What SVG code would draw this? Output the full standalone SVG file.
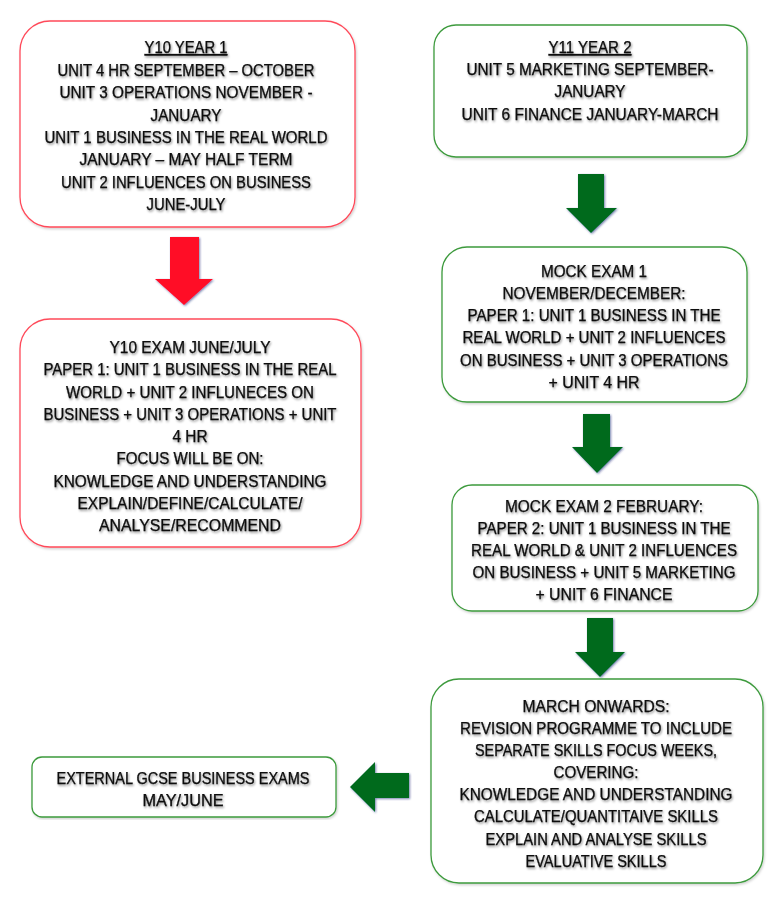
<svg xmlns="http://www.w3.org/2000/svg" width="768" height="903" viewBox="0 0 768 903">
<defs>
<filter id="ts" x="-5%" y="-30%" width="110%" height="160%">
<feDropShadow dx="1" dy="1.5" stdDeviation="1.2" flood-color="#000" flood-opacity="0.45"/>
</filter>
<filter id="bs" x="-5%" y="-5%" width="110%" height="110%">
<feDropShadow dx="1" dy="1.5" stdDeviation="1.2" flood-color="#000" flood-opacity="0.18"/>
</filter>
<filter id="as" x="-20%" y="-20%" width="140%" height="140%">
<feDropShadow dx="1" dy="1" stdDeviation="0.8" flood-color="#1a2a7a" flood-opacity="0.6"/>
</filter>
</defs>
<style>
.red{fill:#fff;stroke:#ff4a5a;stroke-width:1.3;filter:url(#bs)}
.grn{fill:#fff;stroke:#3c9a3c;stroke-width:1.3;filter:url(#bs)}
text{font-family:"Liberation Sans",Arial,sans-serif;font-size:16px;fill:#0a0a0a;stroke:#0a0a0a;stroke-width:0.25;text-anchor:middle;filter:url(#ts)}
.u{text-decoration:underline}
.ra{fill:#ff0a28;filter:url(#as)}
.ga{fill:#006b1c;filter:url(#as)}
</style>
<rect width="768" height="903" fill="#fff"/>

<g id="connectors">
<polygon class="ra" points="170,237 199,237 199,279 213,279 184,305 155,279 170,279"/>
<polygon class="ga" points="578,174 604,174 604,208 617,208 591,233 566,208 578,208"/>
<polygon class="ga" points="583,414 610,414 610,447 623,447 597,473 572,447 583,447"/>
<polygon class="ga" points="587,618 613,618 613,652 625,652 600,677 575,652 587,652"/>
<polygon class="ga" points="409,773 409,798 375,798 375,812 350,787 375,762 375,773"/>
</g>

<g id="y10-year1">
<rect class="red" x="20" y="21" width="335" height="206" rx="30"/>
<text class="u" x="186" y="53" textLength="83" lengthAdjust="spacingAndGlyphs">Y10 YEAR 1</text>
<text x="186" y="76" textLength="257" lengthAdjust="spacingAndGlyphs">UNIT 4 HR SEPTEMBER – OCTOBER</text>
<text x="186" y="98" textLength="253" lengthAdjust="spacingAndGlyphs">UNIT 3 OPERATIONS NOVEMBER -</text>
<text x="186" y="121" textLength="71" lengthAdjust="spacingAndGlyphs">JANUARY</text>
<text x="186" y="143" textLength="283" lengthAdjust="spacingAndGlyphs">UNIT 1 BUSINESS IN THE REAL WORLD</text>
<text x="186" y="165" textLength="213" lengthAdjust="spacingAndGlyphs">JANUARY – MAY HALF TERM</text>
<text x="186" y="188" textLength="250" lengthAdjust="spacingAndGlyphs">UNIT 2 INFLUENCES ON BUSINESS</text>
<text x="186" y="210" textLength="79" lengthAdjust="spacingAndGlyphs">JUNE-JULY</text>
</g>

<g id="y10-exam">
<rect class="red" x="20" y="319" width="341" height="228" rx="30"/>
<text x="190" y="353" textLength="161" lengthAdjust="spacingAndGlyphs">Y10 EXAM JUNE/JULY</text>
<text x="190" y="375" textLength="293" lengthAdjust="spacingAndGlyphs">PAPER 1: UNIT 1 BUSINESS IN THE REAL</text>
<text x="190" y="398" textLength="248" lengthAdjust="spacingAndGlyphs">WORLD + UNIT 2 INFLUNECES ON</text>
<text x="190" y="420" textLength="293" lengthAdjust="spacingAndGlyphs">BUSINESS + UNIT 3 OPERATIONS + UNIT</text>
<text x="190" y="442" textLength="35" lengthAdjust="spacingAndGlyphs">4 HR</text>
<text x="190" y="464" textLength="147" lengthAdjust="spacingAndGlyphs">FOCUS WILL BE ON:</text>
<text x="190" y="487" textLength="273" lengthAdjust="spacingAndGlyphs">KNOWLEDGE AND UNDERSTANDING</text>
<text x="190" y="509" textLength="225" lengthAdjust="spacingAndGlyphs">EXPLAIN/DEFINE/CALCULATE/</text>
<text x="190" y="531" textLength="182" lengthAdjust="spacingAndGlyphs">ANALYSE/RECOMMEND</text>
</g>

<g id="y11-year2">
<rect class="grn" x="434" y="25" width="313" height="132" rx="22"/>
<text class="u" x="590" y="53" textLength="83" lengthAdjust="spacingAndGlyphs">Y11 YEAR 2</text>
<text x="590" y="75" textLength="247" lengthAdjust="spacingAndGlyphs">UNIT 5 MARKETING SEPTEMBER-</text>
<text x="590" y="97" textLength="71" lengthAdjust="spacingAndGlyphs">JANUARY</text>
<text x="590" y="120" textLength="257" lengthAdjust="spacingAndGlyphs">UNIT 6 FINANCE JANUARY-MARCH</text>
</g>

<g id="mock1">
<rect class="grn" x="442" y="247" width="305" height="155" rx="25"/>
<text x="594" y="277" textLength="106" lengthAdjust="spacingAndGlyphs">MOCK EXAM 1</text>
<text x="594" y="299" textLength="183" lengthAdjust="spacingAndGlyphs">NOVEMBER/DECEMBER:</text>
<text x="594" y="321" textLength="253" lengthAdjust="spacingAndGlyphs">PAPER 1: UNIT 1 BUSINESS IN THE</text>
<text x="594" y="343" textLength="263" lengthAdjust="spacingAndGlyphs">REAL WORLD + UNIT 2 INFLUENCES</text>
<text x="594" y="366" textLength="268" lengthAdjust="spacingAndGlyphs">ON BUSINESS + UNIT 3 OPERATIONS</text>
<text x="594" y="388" textLength="91" lengthAdjust="spacingAndGlyphs">+ UNIT 4 HR</text>
</g>

<g id="mock2">
<rect class="grn" x="452" y="485" width="306" height="126" rx="20"/>
<text x="604" y="512" textLength="198" lengthAdjust="spacingAndGlyphs">MOCK EXAM 2 FEBRUARY:</text>
<text x="604" y="534" textLength="253" lengthAdjust="spacingAndGlyphs">PAPER 2: UNIT 1 BUSINESS IN THE</text>
<text x="604" y="556" textLength="266" lengthAdjust="spacingAndGlyphs">REAL WORLD &amp; UNIT 2 INFLUENCES</text>
<text x="604" y="578" textLength="263" lengthAdjust="spacingAndGlyphs">ON BUSINESS + UNIT 5 MARKETING</text>
<text x="604" y="600" textLength="137" lengthAdjust="spacingAndGlyphs">+ UNIT 6 FINANCE</text>
</g>

<g id="march-onwards">
<rect class="grn" x="431" y="679" width="332" height="204" rx="28"/>
<text x="596" y="712" textLength="147" lengthAdjust="spacingAndGlyphs">MARCH ONWARDS:</text>
<text x="596" y="734" textLength="272" lengthAdjust="spacingAndGlyphs">REVISION PROGRAMME TO INCLUDE</text>
<text x="596" y="756" textLength="242" lengthAdjust="spacingAndGlyphs">SEPARATE SKILLS FOCUS WEEKS,</text>
<text x="596" y="778" textLength="85" lengthAdjust="spacingAndGlyphs">COVERING:</text>
<text x="596" y="800" textLength="273" lengthAdjust="spacingAndGlyphs">KNOWLEDGE AND UNDERSTANDING</text>
<text x="596" y="822" textLength="244" lengthAdjust="spacingAndGlyphs">CALCULATE/QUANTITAIVE SKILLS</text>
<text x="596" y="845" textLength="221" lengthAdjust="spacingAndGlyphs">EXPLAIN AND ANALYSE SKILLS</text>
<text x="596" y="867" textLength="141" lengthAdjust="spacingAndGlyphs">EVALUATIVE SKILLS</text>
</g>

<g id="external-exams">
<rect class="grn" x="32" y="757" width="304" height="60" rx="10"/>
<text x="183" y="784" textLength="253" lengthAdjust="spacingAndGlyphs">EXTERNAL GCSE BUSINESS EXAMS</text>
<text x="183" y="806" textLength="81" lengthAdjust="spacingAndGlyphs">MAY/JUNE</text>
</g>
</svg>
